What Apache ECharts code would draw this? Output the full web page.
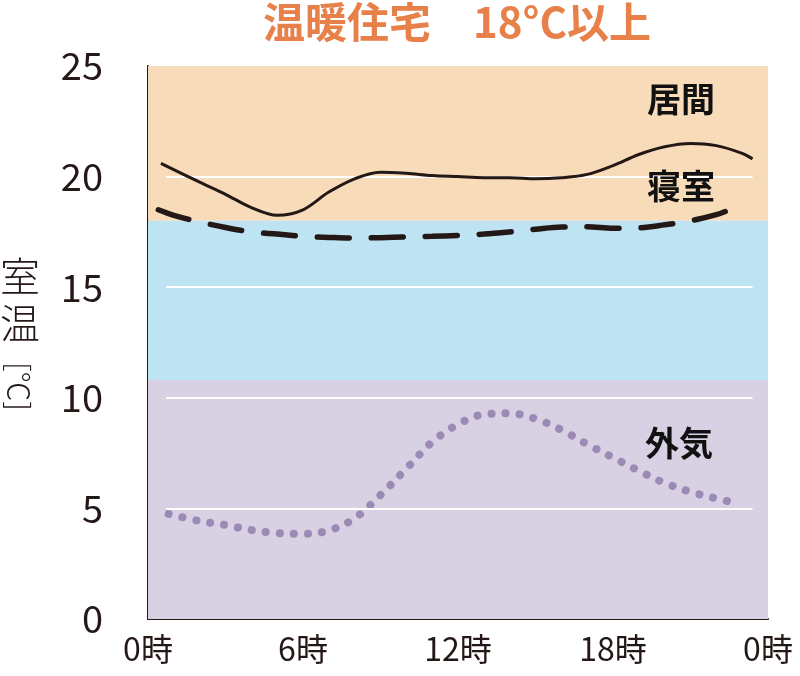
<!DOCTYPE html>
<html>
<head>
  <meta charset="utf-8">
  <title>温暖住宅 室温</title>
  <script src="https://cdn.jsdelivr.net/npm/echarts@6/dist/echarts.min.js"></script>
  <style>
    html, body { margin: 0; padding: 0; background: #fff; }
    #main { width: 800px; height: 676px; }
  </style>
</head>
<body>
  <div id="main"></div>
  <script>
    // 時刻 [h] と 温度 [℃]
    var livingHours = [0.5, 2, 3, 4, 5, 6, 7, 8, 9, 10, 11, 12, 13, 14, 15, 16, 17, 18, 19, 20, 21, 22, 23, 23.4];
    var livingTemp  = [20.6, 19.75, 19.2, 18.6, 18.25, 18.5, 19.3, 19.9, 20.2, 20.15, 20.05, 20.0, 19.95, 19.95, 19.9, 19.95, 20.1, 20.5, 21.0, 21.35, 21.5, 21.4, 21.05, 20.8];

    var bedHours = [0.4, 1, 2, 3, 4, 5, 6, 7, 8, 9, 10, 11, 12, 13, 14, 15, 16, 17, 18, 19, 20, 21, 22, 22.4];
    var bedTemp  = [18.5, 18.25, 17.95, 17.7, 17.5, 17.4, 17.3, 17.25, 17.22, 17.24, 17.27, 17.3, 17.34, 17.4, 17.5, 17.62, 17.72, 17.73, 17.66, 17.68, 17.82, 18.0, 18.28, 18.45];

    var outHours = [0.8, 2, 3, 4, 5, 6, 7, 8, 9, 10, 11, 12, 13, 14, 15, 16, 17, 18, 19, 20, 21, 22, 22.9];
    var outTemp  = [4.75, 4.43, 4.25, 4.02, 3.88, 3.85, 4.0, 4.55, 5.6, 6.8, 8.0, 8.8, 9.25, 9.3, 9.05, 8.55, 7.9, 7.3, 6.7, 6.15, 5.75, 5.45, 5.2];

    var bandLimits = [0, 10.8, 18, 25];   // 外気帯 / 寝室帯 / 居間帯
    var gridValues = [5, 10, 15, 20];

    function pairs(xs, ys) {
      var out = [];
      for (var i = 0; i < xs.length; i++) out.push([xs[i], ys[i]]);
      return out;
    }

    var numFont = '"Liberation Sans Narrow", "Noto Sans CJK JP", sans-serif';
    var cjkFont = '"Noto Sans CJK JP", sans-serif';
    var ink = '#231815';

    var chart = echarts.init(document.getElementById('main'), null, { renderer: 'canvas' });

    var gridLines = gridValues.map(function (v) {
      return [{ coord: [0.7, v] }, { coord: [23.4, v] }];
    });

    chart.setOption({
      animation: false,
      title: {
        text: '温暖住宅　18°C以上',
        left: 452,
        textAlign: 'center',
        top: -4,
        textStyle: { color: '#e8804a', fontSize: 42, fontWeight: 'bold', fontFamily: cjkFont }
      },
      grid: { left: 148, right: 32, top: 66, bottom: 57 },
      xAxis: {
        type: 'value', min: 0, max: 24, interval: 6,
        axisLine: { lineStyle: { color: ink, width: 2 } },
        axisTick: { show: false },
        splitLine: { show: false },
        axisLabel: {
          color: ink, fontSize: 32, fontFamily: numFont, margin: 14,
          formatter: function (v) { return (v % 24) + '時'; }
        }
      },
      yAxis: {
        type: 'value', min: 0, max: 25, interval: 5,
        axisLine: { show: true, lineStyle: { color: ink, width: 2 } },
        axisTick: { show: false },
        splitLine: { show: false },
        axisLabel: { color: ink, fontSize: 38, fontFamily: numFont, margin: 45 }
      },
      graphic: [
        { type: 'text', left: 0, top: 256, style: { text: '室', font: '300 40px ' + cjkFont, fill: ink } },
        { type: 'text', left: 0, top: 303, style: { text: '温', font: '300 40px ' + cjkFont, fill: ink } },
        { type: 'text', x: 4, y: 362, rotation: -Math.PI / 2,
          style: { text: '[℃]', font: '300 30px ' + cjkFont, fill: ink, textVerticalAlign: 'bottom' } },
        { type: 'text', left: 647, top: 82, style: { text: '居間', font: 'bold 34px ' + cjkFont, fill: '#111' }, z: 10 },
        { type: 'text', left: 647, top: 169, style: { text: '寝室', font: 'bold 34px ' + cjkFont, fill: '#111' }, z: 10 },
        { type: 'text', left: 645, top: 426, style: { text: '外気', font: 'bold 34px ' + cjkFont, fill: '#111' }, z: 10 }
      ],
      series: [
        {
          name: 'bg', type: 'line', z: 1, silent: true,
          data: [[0, 0]], showSymbol: false, lineStyle: { opacity: 0 },
          markArea: {
            silent: true,
            data: [
              [{ yAxis: bandLimits[2], itemStyle: { color: '#f8dbb9' } }, { yAxis: bandLimits[3] }],
              [{ yAxis: bandLimits[1], itemStyle: { color: '#bee3f3' } }, { yAxis: bandLimits[2] }],
              [{ yAxis: bandLimits[0], itemStyle: { color: '#d8d1e3' } }, { yAxis: bandLimits[1] }]
            ]
          },
          markLine: {
            silent: true, symbol: 'none', label: { show: false },
            lineStyle: { color: '#ffffff', width: 2, type: 'solid' },
            data: gridLines
          }
        },
        {
          name: '外気', type: 'line', z: 3, smooth: 0.35, showSymbol: false,
          data: pairs(outHours, outTemp),
          lineStyle: { color: '#9b8ab5', width: 8, type: [0.1, 14], cap: 'round' }
        },
        {
          name: '寝室', type: 'line', z: 4, smooth: 0.35, showSymbol: false,
          data: pairs(bedHours, bedTemp),
          lineStyle: { color: ink, width: 5.5, type: [32, 22], cap: 'round' }
        },
        {
          name: '居間', type: 'line', z: 5, smooth: 0.35, showSymbol: false,
          data: pairs(livingHours, livingTemp),
          lineStyle: { color: ink, width: 3 }
        }
      ]
    });
  </script>
</body>
</html>
